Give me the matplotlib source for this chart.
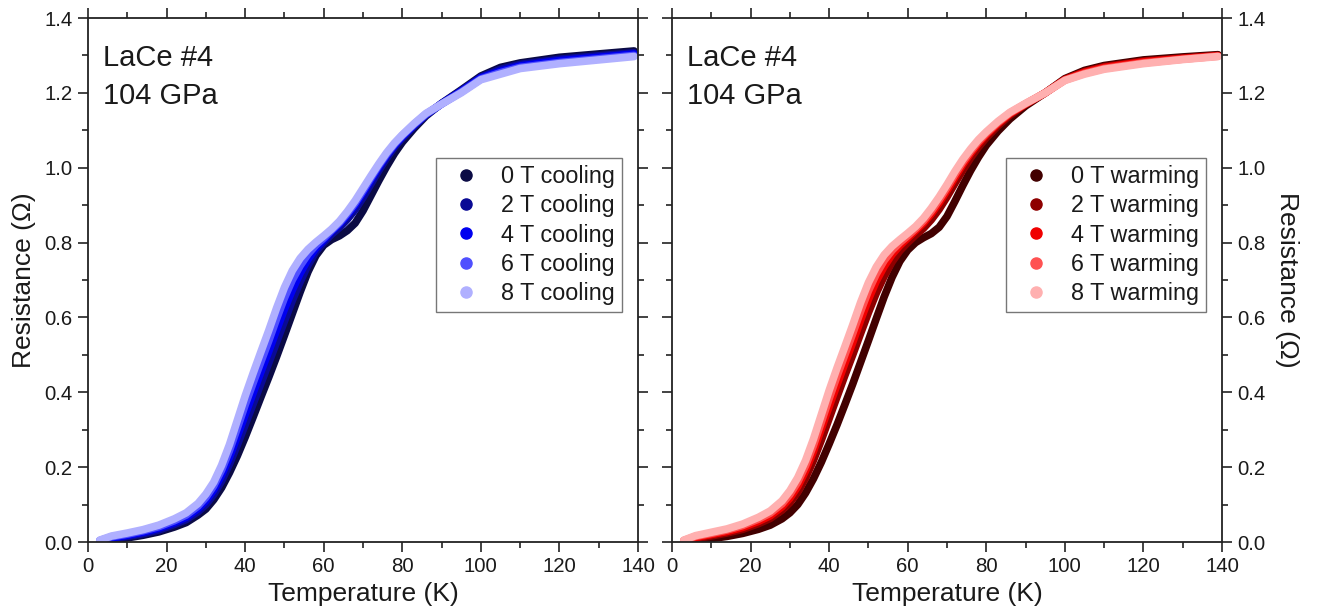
import matplotlib
matplotlib.use("Agg")
import matplotlib.pyplot as plt
from matplotlib.lines import Line2D
from matplotlib.ticker import MultipleLocator, FormatStrFormatter

plt.rcParams['font.family'] = ['Liberation Sans', 'DejaVu Sans']

# ---------------- data ----------------
temperature = [3, 6, 10, 14, 18, 22, 25, 28, 30, 32, 34, 36, 38, 40, 42, 44, 46, 48, 50, 52,
               54, 56, 58, 60, 62, 64, 66, 68, 70, 72, 74, 76, 78, 80, 83, 86, 90, 95, 100,
               105, 110, 120, 130, 139]

cool_labels = ["0 T cooling", "2 T cooling", "4 T cooling", "6 T cooling", "8 T cooling"]
warm_labels = ["0 T warming", "2 T warming", "4 T warming", "6 T warming", "8 T warming"]

cool_0T = [0.000, 0.005, 0.011, 0.018, 0.027, 0.040, 0.052, 0.072, 0.088, 0.113, 0.145, 0.185,
           0.230, 0.280, 0.333, 0.387, 0.440, 0.495, 0.552, 0.610, 0.668, 0.722, 0.765, 0.793,
           0.808, 0.818, 0.832, 0.852, 0.885, 0.925, 0.965, 1.003, 1.038, 1.068, 1.105, 1.138,
           1.172, 1.208, 1.245, 1.268, 1.280, 1.295, 1.304, 1.312]
cool_2T = [0.002, 0.008, 0.015, 0.022, 0.032, 0.047, 0.060, 0.081, 0.100, 0.127, 0.163, 0.208,
           0.259, 0.313, 0.368, 0.423, 0.478, 0.534, 0.590, 0.645, 0.695, 0.740, 0.776, 0.800,
           0.822, 0.840, 0.862, 0.888, 0.920, 0.956, 0.992, 1.025, 1.055, 1.079, 1.111, 1.141,
           1.171, 1.206, 1.242, 1.263, 1.276, 1.290, 1.299, 1.307]
cool_4T = [0.003, 0.011, 0.018, 0.026, 0.037, 0.052, 0.066, 0.089, 0.110, 0.139, 0.178, 0.226,
           0.282, 0.340, 0.397, 0.454, 0.509, 0.566, 0.622, 0.673, 0.718, 0.755, 0.785, 0.807,
           0.830, 0.849, 0.873, 0.900, 0.933, 0.967, 1.001, 1.033, 1.060, 1.083, 1.114, 1.142,
           1.171, 1.204, 1.240, 1.258, 1.272, 1.286, 1.295, 1.304]
cool_6T = [0.004, 0.014, 0.021, 0.030, 0.041, 0.057, 0.072, 0.096, 0.119, 0.150, 0.192, 0.244,
           0.304, 0.366, 0.424, 0.481, 0.537, 0.596, 0.652, 0.700, 0.738, 0.769, 0.793, 0.812,
           0.833, 0.853, 0.878, 0.906, 0.939, 0.973, 1.006, 1.036, 1.063, 1.086, 1.116, 1.143,
           1.170, 1.202, 1.237, 1.254, 1.268, 1.281, 1.291, 1.300]
cool_8T = [0.005, 0.016, 0.024, 0.033, 0.045, 0.062, 0.078, 0.103, 0.128, 0.160, 0.205, 0.260,
           0.325, 0.390, 0.450, 0.508, 0.565, 0.625, 0.680, 0.725, 0.758, 0.782, 0.801, 0.818,
           0.836, 0.857, 0.883, 0.912, 0.945, 0.978, 1.010, 1.040, 1.066, 1.088, 1.118, 1.145,
           1.170, 1.200, 1.235, 1.250, 1.265, 1.278, 1.288, 1.297]

warm_0T = [0.000, 0.004, 0.009, 0.015, 0.023, 0.034, 0.045, 0.062, 0.078, 0.100, 0.131, 0.169,
           0.213, 0.262, 0.313, 0.367, 0.422, 0.480, 0.538, 0.597, 0.655, 0.707, 0.750, 0.780,
           0.800, 0.813, 0.824, 0.841, 0.870, 0.910, 0.952, 0.992, 1.028, 1.060, 1.098, 1.130,
           1.165, 1.200, 1.238, 1.260, 1.273, 1.288, 1.296, 1.302]
warm_2T = [0.002, 0.009, 0.016, 0.024, 0.034, 0.049, 0.063, 0.085, 0.105, 0.133, 0.171, 0.218,
           0.272, 0.330, 0.388, 0.445, 0.500, 0.557, 0.613, 0.665, 0.710, 0.748, 0.778, 0.800,
           0.820, 0.838, 0.861, 0.889, 0.922, 0.958, 0.993, 1.026, 1.055, 1.080, 1.112, 1.140,
           1.169, 1.200, 1.236, 1.257, 1.270, 1.285, 1.293, 1.300]
warm_4T = [0.003, 0.012, 0.020, 0.028, 0.039, 0.055, 0.070, 0.094, 0.117, 0.148, 0.190, 0.242,
           0.302, 0.362, 0.420, 0.477, 0.533, 0.592, 0.648, 0.697, 0.736, 0.768, 0.792, 0.812,
           0.832, 0.852, 0.877, 0.906, 0.939, 0.974, 1.008, 1.038, 1.065, 1.088, 1.118, 1.144,
           1.170, 1.200, 1.235, 1.255, 1.268, 1.283, 1.292, 1.299]
warm_6T = [0.004, 0.015, 0.023, 0.032, 0.044, 0.061, 0.077, 0.102, 0.127, 0.160, 0.204, 0.258,
           0.320, 0.383, 0.443, 0.500, 0.557, 0.616, 0.671, 0.716, 0.752, 0.779, 0.800, 0.818,
           0.837, 0.858, 0.884, 0.914, 0.947, 0.982, 1.015, 1.044, 1.070, 1.092, 1.121, 1.146,
           1.171, 1.200, 1.234, 1.252, 1.265, 1.280, 1.290, 1.298]
warm_8T = [0.005, 0.017, 0.026, 0.035, 0.048, 0.066, 0.083, 0.110, 0.137, 0.172, 0.218, 0.275,
           0.340, 0.405, 0.465, 0.522, 0.580, 0.640, 0.693, 0.735, 0.767, 0.790, 0.808, 0.825,
           0.843, 0.865, 0.892, 0.922, 0.955, 0.990, 1.022, 1.050, 1.075, 1.096, 1.124, 1.148,
           1.172, 1.200, 1.233, 1.250, 1.263, 1.278, 1.289, 1.297]

cool_colors = ["#0b0b45", "#0a0a95", "#0000f0", "#5050ff", "#b0b0ff"]
warm_colors = ["#420000", "#8e0000", "#f00000", "#ff5252", "#ffb0b0"]

sample_text = "LaCe #4\n104 GPa"
xlabel = "Temperature (K)"
ylabel = "Resistance (\u03a9)"

# ---------------- figure ----------------
fig = plt.figure(figsize=(13.17, 6.10), dpi=100)
axL = fig.add_axes([88/1317, 1-542/610, 550/1317, 524/610])
axR = fig.add_axes([672/1317, 1-542/610, 550/1317, 524/610])

txt_color = "#1a1a1a"

def style(ax):
    ax.set_xlim(0, 140)
    ax.set_ylim(0, 1.4)
    ax.xaxis.set_major_locator(MultipleLocator(20))
    ax.xaxis.set_minor_locator(MultipleLocator(10))
    ax.yaxis.set_major_locator(MultipleLocator(0.2))
    ax.yaxis.set_minor_locator(MultipleLocator(0.1))
    ax.yaxis.set_major_formatter(FormatStrFormatter('%.1f'))
    ax.xaxis.set_major_formatter(FormatStrFormatter('%d'))
    for s in ax.spines.values():
        s.set_linewidth(1.3)
        s.set_color("#222222")
    ax.tick_params(which='both', direction='out', top=True, bottom=True, left=True, right=True,
                   width=1.2, color="#222222", labelsize=14.7, labelcolor=txt_color, pad=4)
    ax.tick_params(which='major', length=7)
    ax.tick_params(which='minor', length=4)
    ax.set_xlabel(xlabel, fontsize=19, color=txt_color, labelpad=4)
    ax.text(0.027, 0.951, sample_text, transform=ax.transAxes, fontsize=21,
            color=txt_color, va='top', ha='left', linespacing=1.45)

def draw(ax, series, colors, labels):
    for r, c in zip(series, colors):
        ax.plot(temperature, r, color=c, lw=5.5, solid_capstyle='round',
                solid_joinstyle='round')
    handles = [Line2D([], [], ls='none', marker='o', ms=8, mfc=c, mec=c) for c in colors]
    leg = ax.legend(handles, labels, loc='upper right', bbox_to_anchor=(0.971, 0.733),
                    fontsize=16.8, frameon=True, fancybox=False, edgecolor="#555555",
                    handlelength=2.0, handletextpad=0.5, labelspacing=0.27,
                    borderpad=0.3, borderaxespad=0.0)
    leg.get_frame().set_linewidth(1.0)
    for t in leg.get_texts():
        t.set_color(txt_color)

style(axL)
style(axR)
draw(axL, [cool_0T, cool_2T, cool_4T, cool_6T, cool_8T], cool_colors, cool_labels)
draw(axR, [warm_0T, warm_2T, warm_4T, warm_6T, warm_8T], warm_colors, warm_labels)

axL.tick_params(which='both', labelleft=True, labelright=False)
axL.set_ylabel(ylabel, fontsize=19, color=txt_color, labelpad=6)

axR.tick_params(which='both', labelleft=False, labelright=True)
axR.yaxis.set_label_position('right')
axR.set_ylabel(ylabel, fontsize=19, color=txt_color, rotation=270, labelpad=24)

fig.savefig("out.png", dpi=100)
